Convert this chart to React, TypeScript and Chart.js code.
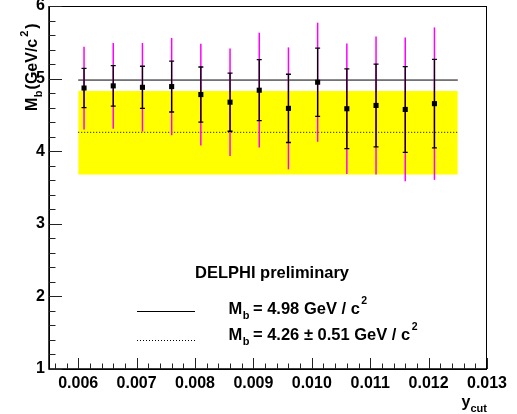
import React, { useEffect, useRef } from 'react';
import { Chart, registerables } from 'chart.js';

Chart.register(...registerables);

// ---- data ----
const yCut = [0.0061, 0.0066, 0.0071, 0.0076, 0.0081, 0.0086, 0.0091, 0.0096, 0.0101, 0.0106, 0.0111, 0.0116, 0.0121];
const massB = [4.87, 4.90, 4.88, 4.89, 4.78, 4.675, 4.84, 4.59, 4.95, 4.585, 4.63, 4.575, 4.655];
const statErr = [0.27, 0.28, 0.29, 0.35, 0.38, 0.40, 0.42, 0.47, 0.47, 0.55, 0.57, 0.59, 0.61];
const totErr = [0.57, 0.59, 0.61, 0.67, 0.70, 0.74, 0.79, 0.84, 0.82, 0.90, 0.95, 0.99, 1.05];
const refMass = 4.98;
const fitMass = 4.26;
const bandLow = 3.68;
const bandHigh = 4.83;
const lineFrom = 0.006;
const lineTo = 0.0125;
const xTicks = [0.006, 0.007, 0.008, 0.009, 0.010, 0.011, 0.012, 0.013];
const yTicks = [1, 2, 3, 4, 5, 6];
const xMin = 0.0055;
const xMax = 0.013;
const yMin = 1;
const yMax = 6;
const xMinorStep = 0.0002;
const yMinorStep = 0.2;
const headerText = 'DELPHI preliminary';
const legendRef = '= 4.98 GeV / c';
const legendFit = '= 4.26 \u00b1 0.51 GeV / c';

const FAMILY = '"Liberation Sans", Arial, Helvetica, sans-serif';

type Part = { t: string; size: number; dy?: number; gap?: number };

function drawRich(ctx: CanvasRenderingContext2D, x: number, y: number, parts: Part[]) {
  let cx = x;
  for (const p of parts) {
    cx += p.gap ?? 0;
    ctx.font = `bold ${p.size}px ${FAMILY}`;
    ctx.fillText(p.t, cx, y + (p.dy ?? 0));
    cx += ctx.measureText(p.t).width;
  }
}

const decorPlugin = {
  id: 'decor',
  beforeDatasetDraw(chart: any, args: any) {
    if (args.index !== 0) return;
    const ctx: CanvasRenderingContext2D = chart.ctx;
    const xs = chart.scales.x;
    const ys = chart.scales.y;
    ctx.save();
    // total (magenta) error bars
    ctx.strokeStyle = '#ff00ff';
    ctx.lineWidth = 1.5;
    for (let i = 0; i < yCut.length; i++) {
      const px = xs.getPixelForValue(yCut[i]);
      ctx.beginPath();
      ctx.moveTo(px, ys.getPixelForValue(massB[i] + totErr[i]));
      ctx.lineTo(px, ys.getPixelForValue(massB[i] - totErr[i]));
      ctx.stroke();
    }
    // statistical (black) error bars with caps
    ctx.strokeStyle = '#000';
    ctx.lineWidth = 1.3;
    for (let i = 0; i < yCut.length; i++) {
      const px = xs.getPixelForValue(yCut[i]);
      const top = ys.getPixelForValue(massB[i] + statErr[i]);
      const bot = ys.getPixelForValue(massB[i] - statErr[i]);
      ctx.beginPath();
      ctx.moveTo(px, top);
      ctx.lineTo(px, bot);
      ctx.moveTo(px - 2.5, top);
      ctx.lineTo(px + 2.5, top);
      ctx.moveTo(px - 2.5, bot);
      ctx.lineTo(px + 2.5, bot);
      ctx.stroke();
    }
    ctx.restore();
  },
  afterDraw(chart: any) {
    const ctx: CanvasRenderingContext2D = chart.ctx;
    const xs = chart.scales.x;
    const ys = chart.scales.y;
    const { left, right, top, bottom } = chart.chartArea;
    ctx.save();
    // frame
    ctx.strokeStyle = '#000';
    ctx.lineWidth = 1;
    ctx.strokeRect(left + 0.5, top + 0.5, right - left - 1, bottom - top);
    ctx.lineWidth = 1.5;
    ctx.beginPath();
    ctx.moveTo(left, top);
    ctx.lineTo(left, bottom);
    ctx.lineTo(right, bottom);
    ctx.stroke();
    // ticks
    ctx.lineWidth = 1;
    ctx.strokeStyle = '#222';
    ctx.beginPath();
    const nyMinor = Math.round((yMax - yMin) / yMinorStep);
    for (let k = 0; k <= nyMinor; k++) {
      const py = Math.round(ys.getPixelForValue(yMin + k * yMinorStep)) + 0.5;
      ctx.moveTo(left, py);
      ctx.lineTo(left + 6.5, py);
    }
    for (const v of yTicks) {
      const py = Math.round(ys.getPixelForValue(v)) + 0.5;
      ctx.moveTo(left, py);
      ctx.lineTo(left + 13, py);
    }
    const nxMinor = Math.round((xMax - xMin) / xMinorStep);
    for (let k = 0; k <= nxMinor; k++) {
      const v = xMin + 0.0001 + k * xMinorStep;
      if (v > xMax + 1e-9) break;
      const px = Math.round(xs.getPixelForValue(v)) + 0.5;
      ctx.moveTo(px, bottom);
      ctx.lineTo(px, bottom - 5.5);
    }
    for (const v of xTicks) {
      const px = Math.round(xs.getPixelForValue(v)) + 0.5;
      ctx.moveTo(px, bottom);
      ctx.lineTo(px, bottom - 11);
    }
    ctx.stroke();

    // texts
    ctx.fillStyle = '#000';
    ctx.textBaseline = 'alphabetic';
    ctx.textAlign = 'left';

    // y title (rotated)
    ctx.save();
    ctx.translate(36.5, 111);
    ctx.rotate(-Math.PI / 2);
    drawRich(ctx, 0, 0, [
      { t: 'M', size: 16 },
      { t: 'b', size: 11, dy: 5, gap: 0.5 },
      { t: '(GeV/c', size: 16, gap: 1 },
      { t: '2', size: 11, dy: -8.5, gap: 2 },
      { t: ')', size: 16, gap: 2 },
    ]);
    ctx.restore();

    // x title
    drawRich(ctx, 461.5, 406.5, [
      { t: 'y', size: 16 },
      { t: 'cut', size: 11, dy: 5, gap: 0 },
    ]);

    // header
    ctx.font = `bold 16.5px ${FAMILY}`;
    ctx.textAlign = 'center';
    ctx.fillText(headerText, 272, 277.5);
    ctx.textAlign = 'left';

    // legend samples
    ctx.strokeStyle = '#000';
    ctx.lineWidth = 1;
    ctx.beginPath();
    ctx.moveTo(137, 311.5);
    ctx.lineTo(195, 311.5);
    ctx.stroke();
    ctx.setLineDash([1, 2]);
    ctx.beginPath();
    ctx.moveTo(137, 340.5);
    ctx.lineTo(195, 340.5);
    ctx.stroke();
    ctx.setLineDash([]);

    drawRich(ctx, 228.5, 314, [
      { t: 'M', size: 16.5 },
      { t: 'b', size: 11, dy: 4.5, gap: 0.5 },
      { t: legendRef, size: 16.5, gap: 3.5 },
      { t: '2', size: 10.5, dy: -10.5, gap: 1.5 },
    ]);
    drawRich(ctx, 228.5, 340, [
      { t: 'M', size: 16.5 },
      { t: 'b', size: 11, dy: 4.5, gap: 0.5 },
      { t: legendFit, size: 16.5, gap: 3.5 },
      { t: '2', size: 10.5, dy: -10.5, gap: 1.5 },
    ]);
    ctx.restore();
  },
};

const tickFont = { family: FAMILY, weight: 'bold' as const, size: 16 };

export default function App() {
  const ref = useRef<HTMLCanvasElement>(null);
  useEffect(() => {
    document.body.style.margin = '0';
    const canvas = ref.current;
    if (!canvas) return;
    const chart = new Chart(canvas, {
      type: 'scatter',
      data: {
        datasets: [
          {
            label: 'M_b',
            data: yCut.map((x, i) => ({ x, y: massB[i] })),
            pointStyle: 'rect',
            pointRadius: 3.6,
            pointBorderWidth: 0,
            backgroundColor: '#000',
            borderColor: '#000',
            showLine: false,
            order: 0,
          },
          {
            type: 'line',
            label: 'ref',
            data: [{ x: lineFrom, y: refMass }, { x: lineTo, y: refMass }],
            borderColor: '#000',
            borderWidth: 1,
            pointRadius: 0,
            fill: false,
            order: 1,
          },
          {
            type: 'line',
            label: 'fit',
            data: [{ x: lineFrom, y: fitMass }, { x: lineTo, y: fitMass }],
            borderColor: '#000',
            borderWidth: 1,
            borderDash: [1, 2],
            pointRadius: 0,
            fill: false,
            order: 1,
          },
          {
            type: 'line',
            label: 'band',
            data: [{ x: lineFrom, y: bandHigh }, { x: lineTo, y: bandHigh }],
            borderWidth: 0,
            borderColor: 'rgba(0,0,0,0)',
            backgroundColor: '#ffff00',
            pointRadius: 0,
            fill: { value: bandLow },
            order: 3,
          },
        ] as any,
      },
      options: {
        animation: false,
        responsive: false,
        devicePixelRatio: 1,
        layout: { padding: { top: 6, right: 30, bottom: 0, left: 0 } },
        plugins: { legend: { display: false }, tooltip: { enabled: false } },
        scales: {
          x: {
            type: 'linear',
            min: xMin,
            max: xMax,
            grid: { display: false, drawTicks: false },
            border: { display: false },
            afterBuildTicks: (s: any) => {
              s.ticks = xTicks.map((v) => ({ value: v }));
            },
            afterFit: (s: any) => {
              s.height = 45;
              s.paddingLeft = 0;
              s.paddingRight = 0;
            },
            ticks: {
              font: tickFont,
              color: '#000',
              padding: 5,
              maxRotation: 0,
              autoSkip: false,
              callback: (v: any) => Number(v).toFixed(3),
            },
          },
          y: {
            type: 'linear',
            min: yMin,
            max: yMax,
            grid: { display: false, drawTicks: false },
            border: { display: false },
            afterBuildTicks: (s: any) => {
              s.ticks = yTicks.map((v) => ({ value: v }));
            },
            afterFit: (s: any) => {
              s.width = 49;
              s.paddingTop = 0;
              s.paddingBottom = 0;
            },
            ticks: {
              font: tickFont,
              color: '#000',
              padding: 4,
              autoSkip: false,
              callback: (v: any) => String(v),
            },
          },
        },
      } as any,
      plugins: [decorPlugin as any],
    });
    return () => chart.destroy();
  }, []);
  return (
    <div style={{ width: 517, height: 414, position: 'relative', background: '#fff' }}>
      <canvas ref={ref} width={517} height={414} style={{ display: 'block', width: 517, height: 414 }} />
    </div>
  );
}
